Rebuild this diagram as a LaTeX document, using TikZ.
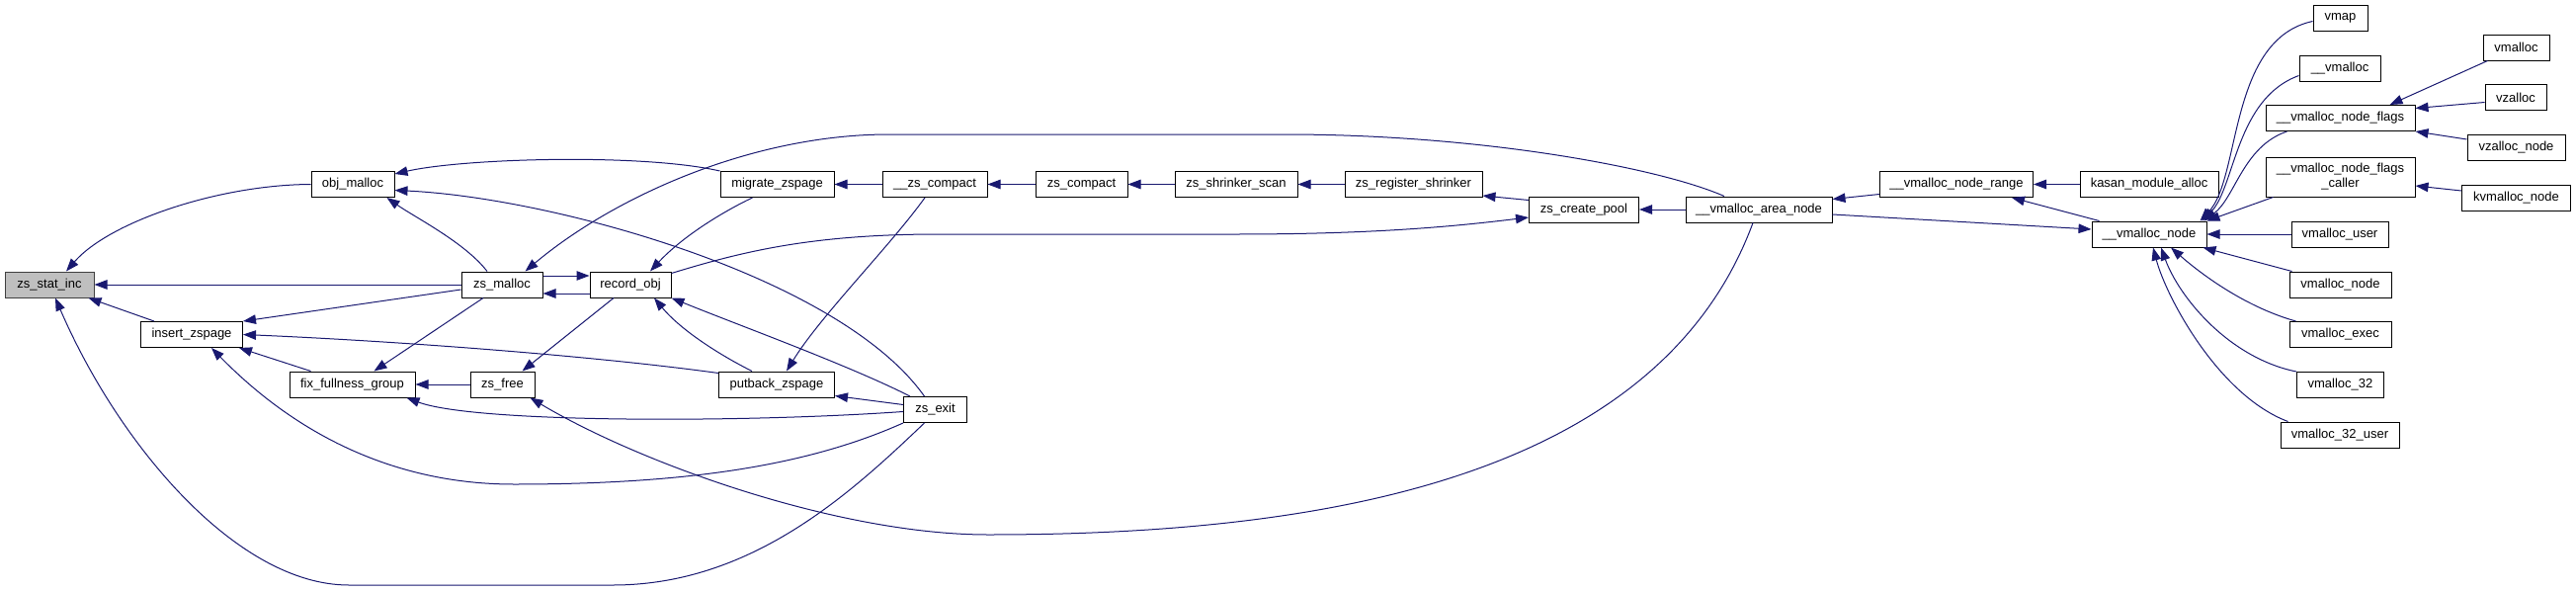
\documentclass[tikz,border=0pt]{standalone}
\usepackage{fontspec}
\setmainfont{Liberation Sans}
\usetikzlibrary{arrows.meta, calc}

\definecolor{edgeblue}{RGB}{25,25,112}
\definecolor{rootgray}{RGB}{191,191,191}

\begin{document}
\begin{tikzpicture}[x=1pt, y=-1pt,
    fn/.style={draw=black, line width=1pt, fill=white, rectangle, inner xsep=4pt, inner ysep=0pt,
               minimum height=26pt, font=\fontsize{13}{15}\selectfont},
    link/.style={draw=edgeblue, line width=1pt, {Triangle[length=13pt,width=9.5pt]}-}]

    % =================================================================
    % 1. BOUNDING BOX
    % =================================================================
    \useasboundingbox (0,0) rectangle (2607,597);

    % =================================================================
    % 2. FUNCTION BOXES (zsmalloc part)
    % =================================================================
    \node[fn, fill=rootgray, draw=black!75, minimum width=90] (statinc) at (50,288) {zs\_stat\_inc};
    \node[fn, minimum width=84] (objmalloc) at (357,186.5) {obj\_malloc};
    \node[fn, minimum width=82] (zsmalloc) at (508,288) {zs\_malloc};
    \node[fn, minimum width=82] (recordobj) at (638,288) {record\_obj};
    \node[fn, minimum width=103] (insertzs) at (194,338.5) {insert\_zspage};
    \node[fn, minimum width=127] (fixfull) at (356.5,389) {fix\_fullness\_group};
    \node[fn, minimum width=65] (zsfree) at (508.5,389) {zs\_free};
    \node[fn, minimum width=115] (migrate) at (786.5,186.5) {migrate\_zspage};
    \node[fn, minimum width=117] (putback) at (786,389) {putback\_zspage};
    \node[fn, minimum width=64] (zsexit) at (946.5,414.5) {zs\_exit};
    \node[fn, minimum width=106] (uzscompact) at (946,186.5) {\_\_zs\_compact};
    \node[fn, minimum width=93] (zscompact) at (1094.5,186.5) {zs\_compact};
    \node[fn, minimum width=124] (shrinkscan) at (1251,186.5) {zs\_shrinker\_scan};
    \node[fn, minimum width=139] (regshrink) at (1430.5,186.5) {zs\_register\_shrinker};
    \node[fn, minimum width=111] (createpool) at (1603,212) {zs\_create\_pool};

    % =================================================================
    % 3. FUNCTION BOXES (vmalloc part)
    % =================================================================
    \node[fn, minimum width=148] (areanode) at (1780,212) {\_\_vmalloc\_area\_node};
    \node[fn, minimum width=155] (noderange) at (1980,186.5) {\_\_vmalloc\_node\_range};
    \node[fn, minimum width=140] (kasan) at (2175,186.5) {kasan\_module\_alloc};
    \node[fn, minimum width=116] (vnode) at (2175,237) {\_\_vmalloc\_node};
    \node[fn, minimum width=55] (vmap) at (2368.5,18.5) {vmap};
    \node[fn, minimum width=82] (uvmalloc) at (2368,69.5) {\_\_vmalloc};
    \node[fn, minimum width=151] (nflags) at (2368.5,119.5) {\_\_vmalloc\_node\_flags};
    \node[fn, minimum width=151, minimum height=40, align=center] (nfcaller) at (2368.5,179)
        {\_\_vmalloc\_node\_flags\\\_caller};
    \node[fn, minimum width=98] (vuser) at (2368,237) {vmalloc\_user};
    \node[fn, minimum width=103] (vnodefn) at (2368.5,288) {vmalloc\_node};
    \node[fn, minimum width=103] (vexec) at (2368.5,338.5) {vmalloc\_exec};
    \node[fn, minimum width=88] (v32) at (2368.5,389.5) {vmalloc\_32};
    \node[fn, minimum width=120] (v32user) at (2368,440) {vmalloc\_32\_user};
    \node[fn, minimum width=67] (vmalloc) at (2546.5,48) {vmalloc};
    \node[fn, minimum width=62] (vzalloc) at (2546,98.5) {vzalloc};
    \node[fn, minimum width=99] (vzallocnode) at (2546.5,149) {vzalloc\_node};
    \node[fn, minimum width=110] (kvmalloc) at (2546.5,200) {kvmalloc\_node};

    % =================================================================
    % 4. CALLS INTO zs_stat_inc, obj_malloc, zs_malloc, record_obj
    % =================================================================
    \draw[link] ($(statinc.north)+(17,0)$) .. controls (110,225) and (220,187) .. (objmalloc.west);
    \draw[link] (statinc.east) -- (zsmalloc.west);
    \draw[link] ($(statinc.south east)+(-6,0)$) -- ($(insertzs.north west)+(14,0)$);
    \draw[link] ($(statinc.south)+(6,0)$) .. controls (120,450) and (240,592) .. (353,592)
        -- (620,592) .. controls (760,592) and (860,500) .. ($(zsexit.south)+(-11,0)$);

    \draw[link] ($(objmalloc.south east)+(-8,0)$) .. controls (420,220) and (470,245) .. ($(zsmalloc.north)+(-15,0)$);
    \draw[link] ($(objmalloc.north east)+(0,3)$) .. controls (470,160) and (650,155) .. (migrate.north west);
    \draw[link] ($(objmalloc.east)+(0,6)$) .. controls (560,200) and (850,280) .. ($(zsexit.north)+(-11,0)$);

    \draw[link] ($(zsmalloc.north east)+(-18,0)$) .. controls (620,200) and (760,136) .. (900,136)
        -- (1300,136) .. controls (1500,136) and (1680,170) .. ($(areanode.north)+(-35,0)$);
    \draw[link] ($(zsmalloc.east)+(0,9)$) -- ($(recordobj.west)+(0,9)$);

    \draw[link] ($(recordobj.west)+(0,-9)$) -- ($(zsmalloc.east)+(0,-9)$);
    \draw[link] ($(recordobj.north)+(20,0)$) .. controls (690,240) and (730,215) .. ($(migrate.south)+(-25,0)$);
    \draw[link] ($(recordobj.south)+(24,0)$) .. controls (690,335) and (730,360) .. ($(putback.north)+(-25,0)$);
    \draw[link] (recordobj.south east) .. controls (750,330) and (860,370) .. ($(zsexit.north west)+(7,0)$);

    % =================================================================
    % 5. CALLS INTO insert_zspage, fix_fullness_group, zs_free
    % =================================================================
    \draw[link] (insertzs.north east) -- ($(zsmalloc.west)+(0,5)$);
    \draw[link] ($(insertzs.south east)+(-4,0)$) -- ($(fixfull.north west)+(22,0)$);
    \draw[link] (insertzs.east) .. controls (400,345) and (600,360) .. ($(putback.north west)+(0,2)$);
    \draw[link] ($(insertzs.south)+(20,0)$) .. controls (300,440) and (400,490) .. (520,490)
        .. controls (700,490) and (820,470) .. (zsexit.south west);

    \draw[link] ($(fixfull.north)+(22,0)$) -- ($(zsmalloc.south)+(-19,0)$);
    \draw[link] (fixfull.east) -- (zsfree.west);
    \draw[link] ($(fixfull.south east)+(-9,0)$) .. controls (480,428) and (750,428) .. ($(zsexit.west)+(0,2)$);

    \draw[link] ($(zsfree.north)+(20,0)$) -- ($(recordobj.south)+(-17,0)$);
    \draw[link] ($(zsfree.south east)+(-5,0)$) .. controls (650,470) and (850,541) .. (1000,541)
        .. controls (1350,541) and (1680,480) .. ($(areanode.south)+(-6,0)$);

    % =================================================================
    % 6. COMPACTION CHAIN AND zs_create_pool
    % =================================================================
    \draw[link] (migrate.east) -- (uzscompact.west);
    \draw[link] (uzscompact.east) -- (zscompact.west);
    \draw[link] (zscompact.east) -- (shrinkscan.west);
    \draw[link] (shrinkscan.east) -- (regshrink.west);
    \draw[link] ($(putback.north)+(10,0)$) .. controls (830,320) and (900,250) .. ($(uzscompact.south)+(-10,0)$);
    \draw[link] ($(putback.south east)+(0,-2)$) -- ($(zsexit.west)+(0,-5)$);

    \draw[link] ($(regshrink.south east)+(0,-2)$) -- ($(createpool.north west)+(0,4)$);
    \draw[link] (createpool.east) -- (areanode.west);
    \draw[link] ($(createpool.west)+(0,8)$) .. controls (1480,228) and (1400,237) .. (1250,237)
        -- (950,237) .. controls (820,237) and (750,255) .. ($(recordobj.north east)+(0,2)$);

    % =================================================================
    % 7. VMALLOC CALLERS
    % =================================================================
    \draw[link] ($(areanode.north east)+(0,3)$) -- ($(noderange.west)+(0,10)$);
    \draw[link] ($(vnode.west)+(0,-5)$) -- ($(areanode.east)+(0,5)$);
    \draw[link] (noderange.east) -- (kasan.west);
    \draw[link] ($(noderange.south east)+(-22,0)$) -- ($(vnode.north west)+(8,0)$);

    \draw[link] ($(vnode.north east)+(-7,0)$) .. controls (2268,180) and (2255,40) .. ($(vmap.west)+(0,3)$);
    \draw[link] ($(vnode.north east)+(-5,0)$) .. controls (2262,190) and (2262,100) .. ($(uvmalloc.west)+(0,7)$);
    \draw[link] ($(vnode.north east)+(-3,0)$) .. controls (2262,200) and (2270,148) .. ($(nflags.south west)+(22,0)$);
    \draw[link] (vnode.north east) -- ($(nfcaller.south west)+(8,0)$);
    \draw[link] (vnode.east) -- (vuser.west);
    \draw[link] ($(vnode.south east)+(-4,0)$) -- ($(vnodefn.north west)+(3,0)$);
    \draw[link] ($(vnode.south)+(22,0)$) .. controls (2225,275) and (2270,310) .. ($(vexec.north west)+(7,0)$);
    \draw[link] ($(vnode.south)+(12,0)$) .. controls (2205,300) and (2255,362) .. (v32.north west);
    \draw[link] ($(vnode.south)+(4,0)$) .. controls (2192,300) and (2245,400) .. ($(v32user.north west)+(8,0)$);

    \draw[link] ($(nflags.north east)+(-26,0)$) -- ($(vmalloc.south west)+(5,0)$);
    \draw[link] ($(nflags.east)+(0,-10)$) -- ($(vzalloc.west)+(0,5)$);
    \draw[link] (nflags.south east) -- ($(vzallocnode.west)+(0,-8)$);
    \draw[link] ($(nfcaller.east)+(0,9)$) -- ($(kvmalloc.west)+(0,-7)$);

\end{tikzpicture}
\end{document}
